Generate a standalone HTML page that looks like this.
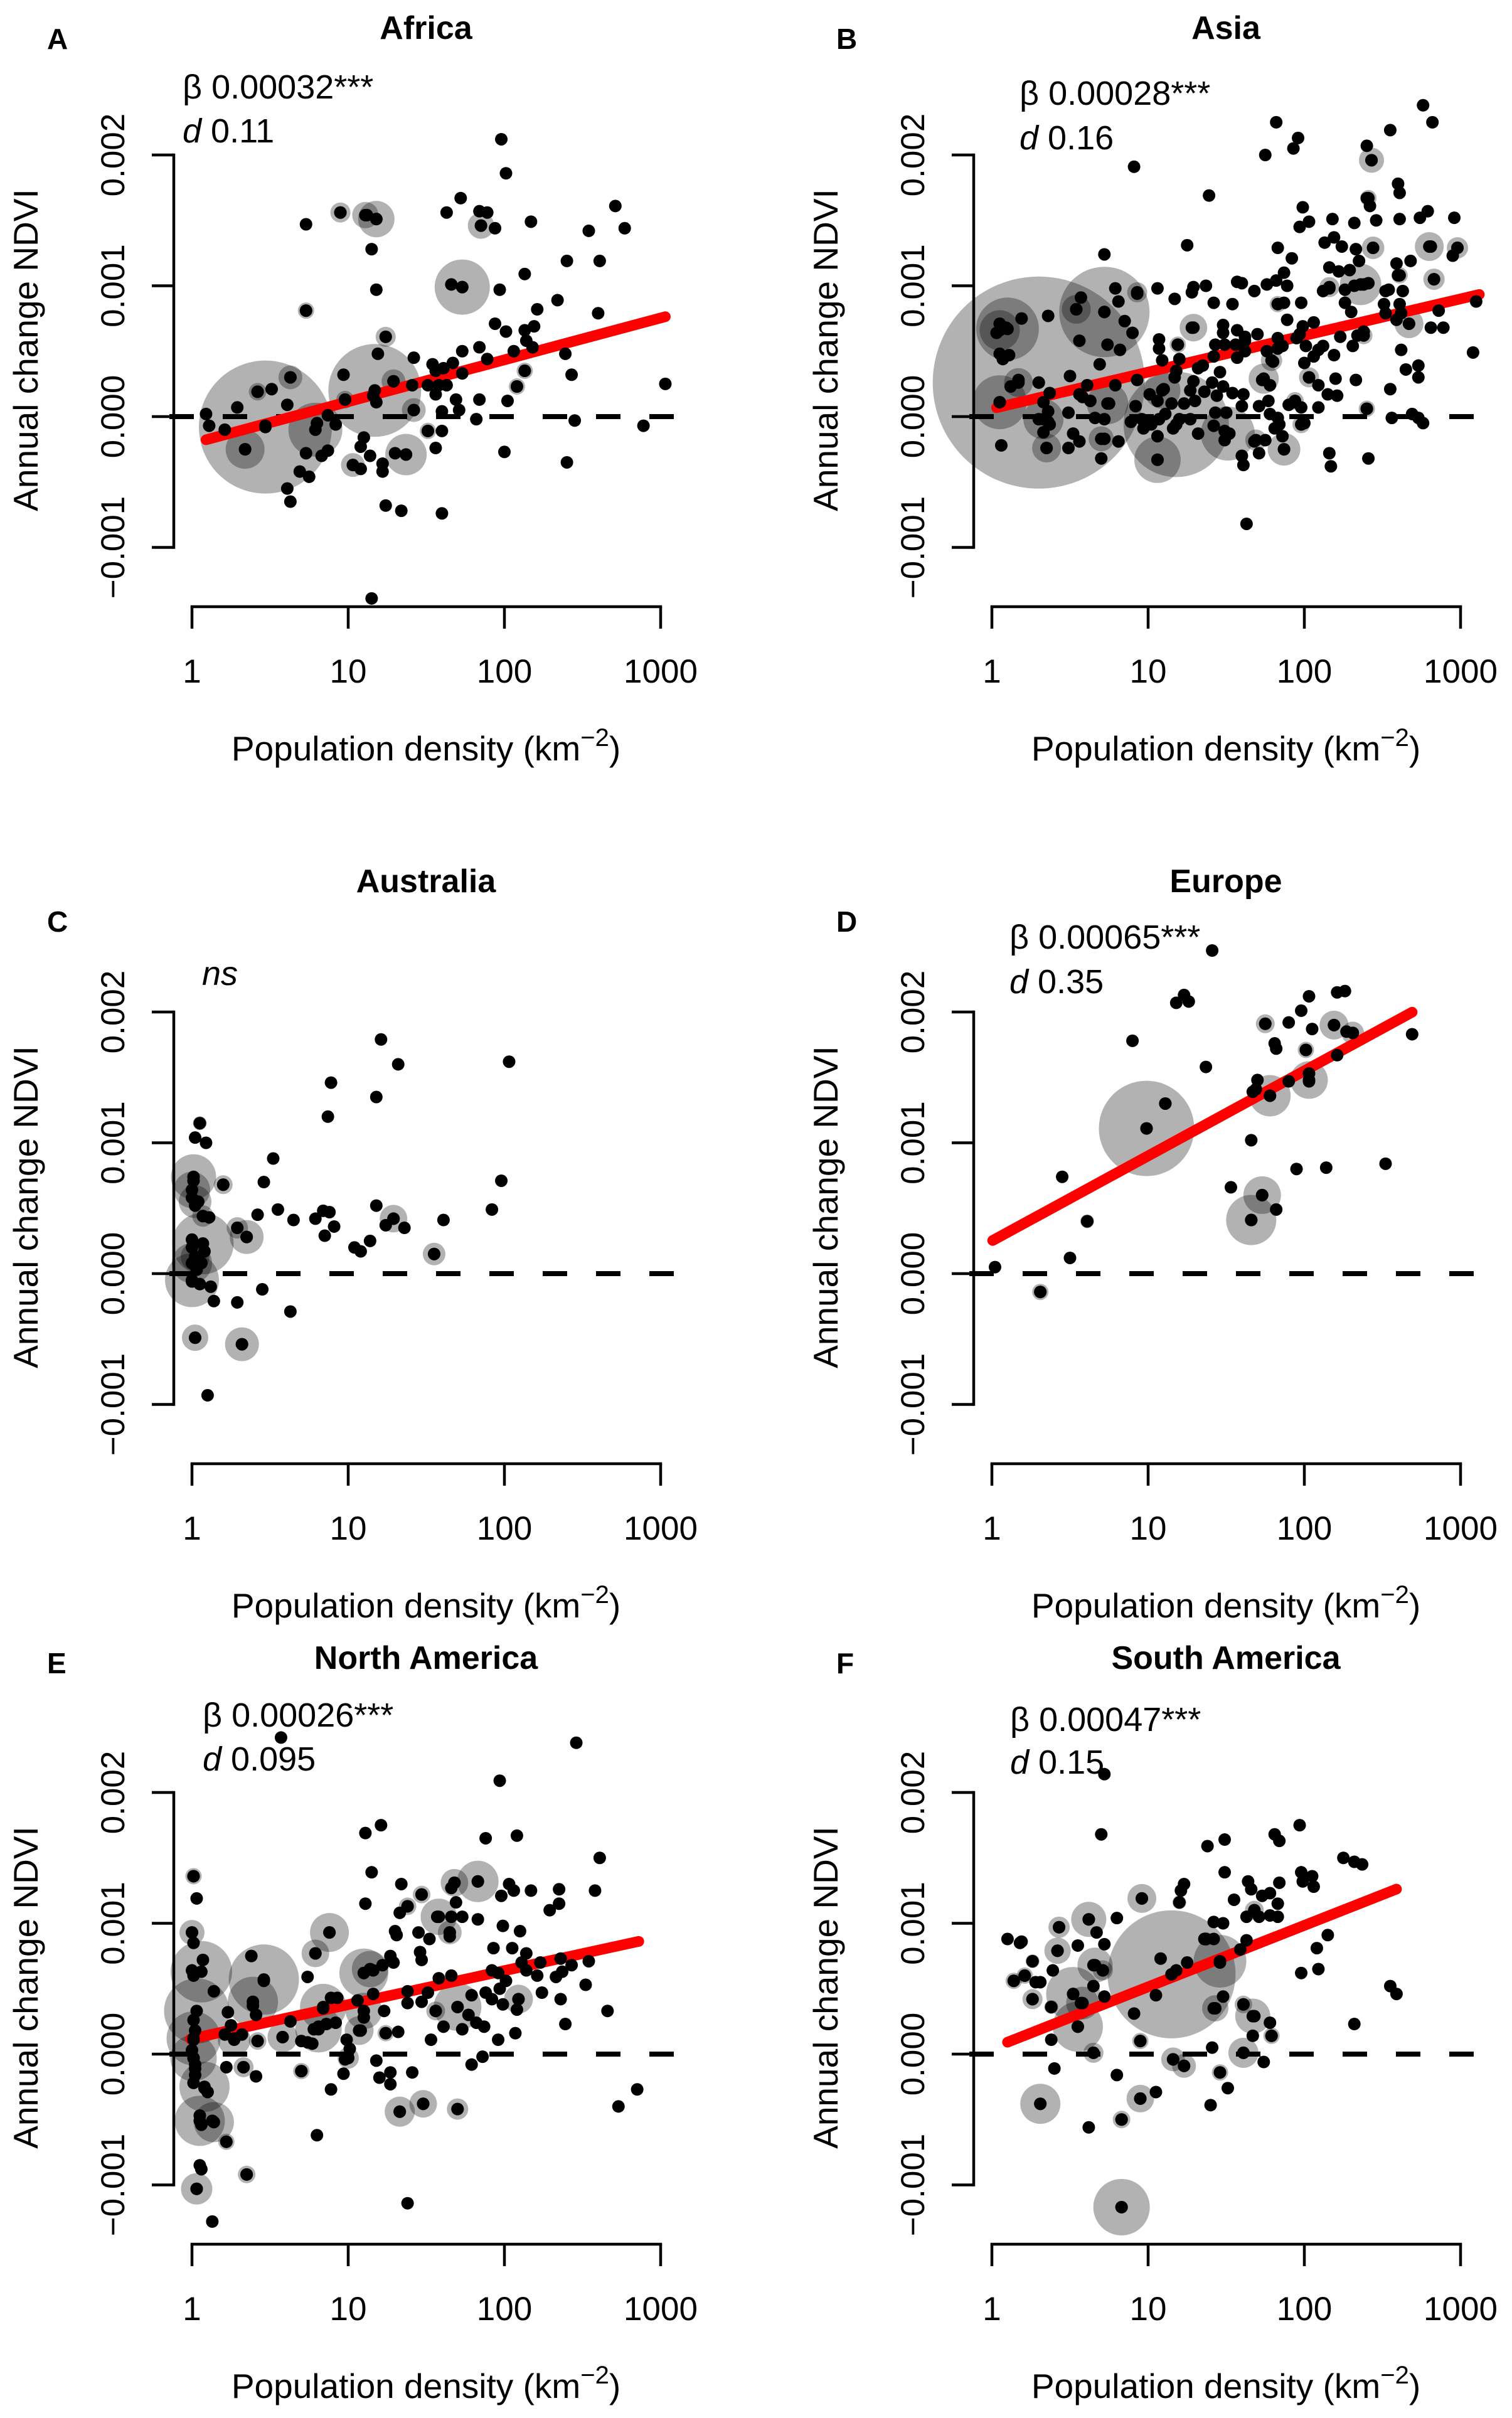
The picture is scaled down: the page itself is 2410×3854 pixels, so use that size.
<!DOCTYPE html>
<html><head><meta charset="utf-8"><title>NDVI change vs population density</title>
<style>html,body{margin:0;padding:0;background:#fff}svg{display:block}text{font-family:"Liberation Sans",sans-serif;fill:#000}</style>
</head><body>
<svg id="fig" xmlns="http://www.w3.org/2000/svg" width="2410" height="3854" viewBox="0 0 2410 3854"></svg>
<script>
// ===== DATA: [log10 population density, annual change NDVI (x0.001)] =====
const yTickValues=[-1,0,1,2];
const yTickLabels=["\u22120.001","0.000","0.001","0.002"];
const xTickValues=[0,1,2,3];
const xTickLabels=["1","10","100","1000"];

const africaPoints=[[1.98,2.12],[2.01,1.86],[1.72,1.67],[1.63,1.56],[1.84,1.57],[1.89,1.56],[1.85,1.46],[1.94,1.44],[2.17,1.49],[2.71,1.61],[2.77,1.44],[2.54,1.42],[2.40,1.19],[2.61,1.19],[2.13,1.09],[1.97,0.97],[1.66,1.01],[1.73,0.99],[0.73,1.47],[0.95,1.56],[1.12,1.54],[1.18,1.51],[1.15,1.28],[1.18,0.97],[0.73,0.81],[1.24,0.61],[2.34,0.89],[2.21,0.82],[2.60,0.79],[1.94,0.71],[2.01,0.65],[2.13,0.66],[2.19,0.69],[2.14,0.58],[2.18,0.53],[1.84,0.53],[2.06,0.50],[1.89,0.44],[1.73,0.50],[1.42,0.45],[1.54,0.40],[1.67,0.41],[1.61,0.37],[1.56,0.35],[1.73,0.33],[2.39,0.48],[2.43,0.32],[2.13,0.35],[2.08,0.23],[3.03,0.25],[1.19,0.48],[0.97,0.32],[1.29,0.27],[1.41,0.24],[1.51,0.24],[1.58,0.24],[1.63,0.24],[1.56,0.17],[1.16,0.16],[1.18,0.11],[0.98,0.13],[0.63,0.30],[0.51,0.21],[0.42,0.19],[0.61,0.09],[0.29,0.07],[0.09,0.02],[0.11,-0.07],[0.21,-0.10],[0.47,-0.07],[0.87,0.01],[0.80,-0.05],[0.92,-0.06],[1.42,0.05],[1.60,0.04],[1.71,0.05],[1.69,0.13],[1.84,0.13],[2.02,0.12],[1.82,-0.02],[2.45,-0.03],[2.89,-0.07],[1.51,-0.11],[1.60,-0.11],[1.10,-0.16],[1.08,-0.23],[0.87,-0.26],[0.83,-0.30],[0.73,-0.28],[1.14,-0.30],[1.30,-0.28],[1.37,-0.29],[1.56,-0.24],[2.00,-0.27],[2.40,-0.35],[1.03,-0.37],[1.08,-0.40],[1.22,-0.36],[1.22,-0.42],[0.69,-0.42],[0.75,-0.46],[0.61,-0.55],[0.63,-0.65],[1.24,-0.68],[1.34,-0.72],[1.60,-0.74],[1.15,-1.39],[0.34,-0.25]];
// bubbles: [log10 density, NDVI change, bubble size]
const africaBubbles=[[0.47,-0.08,106],[1.17,0.20,74],[1.73,0.99,44],[0.79,-0.10,43],[0.34,-0.25,31],[1.18,1.51,29],[1.11,1.54,21],[0.95,1.56,16],[1.85,1.46,21],[1.37,-0.29,33],[1.29,0.27,19],[1.03,-0.37,19],[0.63,0.30,19],[1.24,0.61,16],[0.73,0.81,13],[2.13,0.35,13],[2.08,0.23,13],[1.42,0.05,19],[1.51,-0.11,13],[0.42,0.19,14],[0.98,0.13,14]];
const africaFit=[-0.206,0.32,0.09,3.03]; // intercept, slope, xmin, xmax

const asiaPoints=[[2.76,2.38],[2.82,2.25],[1.82,2.25],[2.55,2.19],[1.96,2.13],[1.93,2.05],[1.75,2.00],[2.40,2.07],[2.43,1.96],[0.91,1.91],[1.39,1.69],[2.60,1.78],[2.61,1.71],[2.40,1.67],[2.42,1.61],[1.99,1.60],[2.03,1.49],[1.97,1.45],[2.18,1.51],[2.32,1.48],[2.46,1.50],[2.61,1.51],[2.74,1.52],[2.79,1.57],[2.96,1.52],[2.13,1.33],[2.19,1.37],[2.24,1.30],[2.33,1.28],[2.44,1.29],[2.81,1.30],[2.98,1.29],[2.95,1.23],[1.25,1.31],[0.72,1.24],[1.83,1.29],[1.92,1.21],[2.35,1.19],[2.59,1.17],[2.68,1.19],[2.16,1.14],[2.22,1.11],[2.29,1.12],[2.60,1.08],[2.83,1.05],[1.87,1.10],[1.82,1.04],[1.89,1.00],[1.76,1.01],[1.68,0.96],[1.57,1.03],[1.60,1.02],[1.37,1.00],[1.29,0.99],[1.28,0.95],[1.06,0.98],[1.17,0.90],[0.79,0.98],[0.93,0.94],[0.81,0.88],[0.57,0.91],[1.42,0.87],[1.54,0.86],[1.98,0.87],[1.83,0.86],[1.87,0.87],[2.12,0.96],[2.16,0.98],[2.26,0.97],[2.32,1.00],[2.38,1.01],[2.41,1.02],[2.26,0.87],[2.30,0.80],[2.52,0.96],[2.63,0.96],[2.51,0.86],[2.61,0.86],[2.52,0.79],[2.62,0.79],[2.86,0.81],[3.10,0.88],[2.59,0.74],[2.67,0.71],[2.81,0.68],[2.89,0.68],[3.08,0.49],[0.54,0.82],[0.72,0.80],[0.36,0.77],[0.19,0.75],[0.05,0.71],[0.09,0.68],[0.03,0.64],[0.85,0.73],[0.90,0.64],[1.89,0.74],[2.06,0.72],[1.99,0.69],[1.97,0.63],[1.95,0.60],[1.83,0.60],[1.70,0.63],[1.48,0.70],[1.57,0.66],[1.62,0.61],[1.48,0.64],[1.28,0.68],[1.07,0.59],[1.19,0.55],[1.07,0.52],[1.43,0.55],[1.49,0.55],[1.56,0.55],[1.62,0.58],[1.62,0.50],[1.57,0.45],[1.42,0.46],[1.09,0.43],[1.20,0.44],[0.56,0.58],[0.74,0.55],[0.82,0.51],[0.69,0.40],[0.05,0.48],[0.11,0.47],[0.07,0.44],[2.09,0.51],[2.01,0.54],[2.12,0.54],[2.19,0.47],[2.06,0.46],[2.00,0.41],[1.86,0.54],[1.83,0.52],[1.76,0.50],[1.80,0.42],[2.23,0.61],[2.31,0.54],[2.38,0.65],[2.34,0.62],[2.62,0.51],[2.73,0.39],[2.65,0.36],[2.73,0.30],[0.50,0.31],[0.30,0.26],[0.12,0.23],[0.17,0.28],[0.93,0.28],[0.79,0.24],[1.18,0.35],[1.17,0.30],[1.32,0.37],[1.35,0.39],[1.46,0.34],[1.29,0.27],[1.41,0.26],[1.48,0.23],[1.27,0.20],[1.36,0.19],[1.44,0.16],[1.54,0.18],[1.61,0.17],[1.73,0.28],[1.78,0.24],[2.03,0.30],[2.09,0.24],[2.20,0.29],[2.33,0.28],[2.55,0.21],[0.37,0.18],[0.56,0.17],[0.58,0.15],[0.63,0.12],[0.33,0.11],[0.61,0.24],[0.05,0.11],[1.01,0.17],[1.10,0.21],[1.06,0.12],[1.15,0.10],[1.23,0.10],[1.30,0.12],[0.92,0.08],[0.75,0.10],[1.60,0.08],[1.71,0.08],[1.77,0.12],[1.90,0.09],[1.94,0.11],[1.98,0.07],[2.09,0.07],[2.15,0.17],[2.21,0.16],[2.40,0.06],[0.49,0.03],[0.36,0.04],[0.30,-0.02],[0.36,-0.04],[0.33,-0.12],[0.37,-0.06],[0.66,-0.01],[0.72,-0.02],[0.96,-0.02],[0.89,-0.04],[1.07,-0.02],[1.02,-0.06],[0.97,-0.09],[1.11,0.02],[1.20,-0.02],[1.27,-0.02],[1.43,0.03],[1.50,0.03],[1.42,-0.07],[1.49,-0.11],[1.52,-0.13],[1.83,-0.01],[1.81,-0.09],[1.84,-0.06],[1.86,-0.15],[1.78,0.02],[2.00,-0.05],[2.56,-0.01],[2.69,0.02],[2.73,-0.01],[2.76,-0.05],[0.52,-0.13],[0.56,-0.19],[0.72,-0.17],[0.81,-0.19],[0.49,-0.24],[0.35,-0.24],[0.06,-0.22],[1.06,-0.15],[1.16,-0.09],[1.32,-0.13],[1.49,-0.18],[1.68,-0.19],[1.75,-0.18],[1.87,-0.25],[1.71,-0.28],[2.16,-0.28],[2.17,-0.38],[2.41,-0.32],[1.60,-0.30],[1.61,-0.37],[0.70,-0.32],[1.06,-0.33],[1.63,-0.82],[2.54,0.97]];
const asiaBubbles=[[0.30,0.26,169],[0.72,0.80,72],[0.10,0.67,50],[0.05,0.11,43],[1.18,-0.06,84],[1.06,-0.33,37],[1.51,-0.13,43],[2.36,1.01,33],[0.05,0.66,32],[2.80,1.30,23],[2.43,1.96,20],[2.44,1.29,18],[2.67,0.71,23],[1.29,0.68,22],[1.87,-0.25,26],[0.33,-0.02,32],[0.35,-0.24,23],[0.74,0.10,33],[2.83,1.05,17],[2.98,1.29,17],[2.38,0.62,14],[1.74,0.29,24],[2.03,0.30,16],[1.98,-0.06,14],[1.79,0.43,17],[2.16,0.99,16],[1.09,0.20,29],[2.40,0.06,13],[1.19,0.55,13],[1.83,0.86,13],[2.41,1.67,13],[2.61,1.08,13],[1.94,0.12,14],[1.69,-0.18,17],[0.93,0.95,16],[0.54,0.82,23],[0.17,0.26,23],[0.70,-0.17,20]];
const asiaFit=[0.06,0.28,0.03,3.12];

const australiaPoints=[[1.21,1.79],[1.32,1.60],[2.03,1.62],[0.89,1.46],[1.18,1.35],[0.87,1.20],[0.05,1.15],[0.02,1.04],[0.09,1.00],[0.52,0.88],[0.01,0.71],[0.20,0.68],[0.46,0.70],[1.98,0.71],[0.00,0.58],[0.04,0.55],[0.02,0.52],[0.07,0.44],[0.11,0.43],[0.42,0.45],[0.55,0.49],[0.65,0.41],[0.79,0.42],[0.84,0.48],[0.88,0.47],[0.91,0.36],[0.85,0.29],[1.18,0.52],[1.29,0.42],[1.24,0.37],[1.36,0.35],[1.61,0.41],[1.92,0.49],[0.29,0.35],[0.35,0.28],[1.04,0.20],[1.08,0.17],[1.14,0.25],[1.55,0.15],[0.00,0.26],[0.00,0.20],[0.08,0.17],[0.06,0.08],[0.03,0.03],[0.00,-0.06],[0.05,-0.08],[0.12,-0.10],[0.14,-0.21],[0.29,-0.22],[0.45,-0.12],[0.63,-0.29],[0.02,-0.49],[0.32,-0.54],[0.10,-0.93]];
const australiaBubbles=[[0.01,0.74,36],[0.00,0.64,29],[0.02,0.55,26],[0.07,0.23,49],[0.00,0.08,32],[0.00,-0.05,43],[0.02,0.13,23],[0.05,1.15,11],[0.20,0.68,15],[0.29,0.35,17],[0.35,0.28,27],[1.29,0.42,22],[1.55,0.15,18],[0.02,-0.49,21],[0.32,-0.54,27],[0.07,0.44,17]];
const australiaFit=null;

const europePoints=[[1.41,2.47],[1.23,2.13],[1.18,2.07],[1.26,2.08],[2.03,2.12],[2.21,2.15],[2.26,2.16],[1.98,2.01],[1.75,1.91],[1.90,1.92],[2.05,1.87],[2.19,1.90],[2.27,1.85],[2.31,1.84],[2.69,1.83],[0.90,1.78],[1.81,1.76],[1.82,1.72],[2.01,1.71],[2.21,1.67],[1.37,1.58],[1.70,1.48],[1.67,1.39],[1.69,1.41],[1.78,1.36],[1.90,1.47],[2.03,1.53],[2.03,1.47],[1.11,1.30],[0.99,1.11],[1.66,1.02],[1.95,0.80],[2.14,0.81],[2.52,0.84],[0.45,0.74],[1.53,0.66],[1.73,0.60],[1.82,0.49],[1.66,0.41],[0.61,0.40],[0.50,0.12],[0.02,0.05],[0.31,-0.14]];
const europeBubbles=[[0.99,1.11,76],[1.78,1.36,33],[2.03,1.48,30],[1.66,0.41,40],[1.73,0.60,30],[2.19,1.90,23],[2.31,1.84,18],[1.75,1.91,15],[2.01,1.71,13],[1.11,1.30,10],[0.61,0.40,11],[0.31,-0.14,13]];
const europeFit=[0.25,0.65,0.005,2.69];

const northAmericaPoints=[[0.57,2.42],[2.46,2.38],[1.97,2.09],[1.21,1.75],[1.11,1.69],[1.88,1.65],[2.08,1.67],[2.61,1.50],[1.15,1.39],[0.01,1.36],[0.03,1.19],[1.11,1.15],[1.34,1.30],[1.47,1.22],[1.38,1.13],[1.33,1.08],[1.68,1.31],[1.66,1.27],[1.83,1.32],[1.69,1.16],[2.03,1.30],[1.98,1.21],[2.06,1.25],[2.17,1.25],[2.35,1.26],[2.35,1.15],[2.29,1.10],[2.58,1.25],[1.57,1.05],[1.66,1.05],[1.73,1.05],[1.83,1.03],[1.99,0.98],[2.10,0.94],[1.30,0.94],[1.31,0.91],[1.45,0.93],[1.52,0.88],[1.65,0.93],[1.65,0.90],[0.88,0.93],[0.00,0.93],[0.01,0.85],[0.38,0.75],[0.07,0.72],[0.00,0.64],[0.01,0.60],[0.79,0.77],[0.74,0.59],[0.46,0.56],[0.14,0.48],[0.39,0.37],[0.41,0.30],[0.23,0.32],[0.25,0.22],[0.21,0.15],[0.32,0.15],[0.27,0.12],[0.01,0.26],[0.02,0.18],[0.01,0.11],[0.00,0.03],[0.01,-0.03],[0.02,-0.08],[0.02,-0.16],[0.01,-0.22],[0.08,-0.26],[0.10,-0.29],[0.05,-0.47],[0.06,-0.54],[0.13,-0.51],[0.22,-0.67],[0.05,-0.85],[0.06,-0.88],[0.03,-1.03],[0.13,-1.28],[0.35,-0.92],[0.80,-0.62],[0.22,-0.10],[0.33,-0.10],[0.41,-0.17],[0.42,0.10],[0.58,0.13],[0.63,0.25],[0.70,0.10],[0.74,0.09],[0.77,0.08],[0.78,0.19],[0.81,0.21],[0.86,0.23],[0.92,0.24],[0.84,0.35],[0.89,0.43],[0.93,0.43],[1.06,0.41],[1.08,0.18],[1.10,0.28],[0.99,0.11],[1.01,0.04],[0.98,-0.04],[0.97,-0.15],[0.89,-0.27],[0.70,-0.13],[1.16,0.46],[1.10,0.62],[1.16,0.64],[1.22,0.68],[1.27,0.75],[1.29,0.70],[1.23,0.33],[1.24,0.16],[1.32,0.17],[1.18,-0.05],[1.27,-0.14],[1.20,-0.18],[1.27,-0.23],[1.41,-0.14],[1.33,-0.44],[1.48,-0.38],[1.70,-0.42],[1.38,-1.14],[1.38,0.48],[1.38,0.39],[1.46,0.78],[1.47,0.72],[1.47,0.40],[1.51,0.47],[1.58,0.58],[1.66,0.60],[1.56,0.33],[1.61,0.21],[1.53,0.11],[1.70,0.36],[1.79,0.45],[1.77,0.30],[1.73,0.19],[1.82,0.24],[1.87,0.21],[1.79,-0.08],[1.86,-0.02],[1.88,0.47],[1.92,0.42],[1.93,0.81],[1.92,0.64],[1.96,0.62],[2.01,0.56],[1.97,0.50],[1.99,0.38],[2.08,0.34],[2.09,0.42],[1.96,0.11],[2.07,0.16],[2.05,0.81],[2.14,0.77],[2.11,0.70],[2.14,0.64],[2.21,0.60],[2.23,0.70],[2.24,0.47],[2.33,0.59],[2.36,0.73],[2.37,0.63],[2.43,0.68],[2.54,0.71],[2.36,0.42],[2.39,0.23],[2.52,0.53],[2.66,0.33],[2.73,-0.40],[2.85,-0.27],[0.02,-0.11]];
const northAmericaBubbles=[[0.06,0.63,49],[0.03,0.33,52],[0.46,0.57,56],[0.39,0.40,40],[0.01,0.12,43],[0.01,-0.03,37],[0.08,-0.25,40],[0.05,-0.51,40],[0.14,-0.52,32],[0.27,0.11,26],[0.84,0.36,37],[0.81,0.19,37],[1.10,0.62,39],[1.14,0.65,29],[1.10,0.33,29],[1.58,1.05,29],[1.83,1.32,33],[1.68,1.31,22],[1.70,0.36,38],[2.09,0.42,23],[0.88,0.93,31],[0.79,0.77,22],[0.58,0.13,24],[1.07,0.18,23],[1.33,-0.44,24],[1.48,-0.38,22],[1.70,-0.42,17],[0.03,-1.03,25],[0.00,0.93,20],[0.01,1.36,13],[0.35,-0.92,14],[0.22,-0.67,13],[0.33,-0.10,16],[0.42,0.10,14],[0.70,-0.13,13],[1.47,1.22,14],[1.38,1.13,14],[1.65,0.93,19],[1.00,-0.03,17],[1.24,0.16,13],[1.56,0.33,15]];
const northAmericaFit=[0.118,0.26,-0.01,2.86];

const southAmericaPoints=[[0.72,2.14],[0.70,1.68],[1.97,1.75],[1.81,1.68],[1.84,1.63],[1.38,1.59],[1.49,1.64],[2.25,1.50],[2.32,1.47],[2.37,1.45],[1.49,1.39],[1.98,1.39],[2.05,1.36],[1.99,1.32],[2.06,1.28],[1.64,1.32],[1.66,1.26],[1.84,1.31],[1.23,1.30],[1.21,1.25],[1.20,1.16],[1.55,1.18],[1.73,1.21],[1.78,1.23],[1.83,1.15],[1.68,1.10],[1.63,1.05],[1.71,1.05],[1.78,1.06],[1.83,1.05],[0.96,1.19],[0.80,1.04],[0.62,1.03],[0.67,0.93],[0.43,0.97],[0.10,0.88],[0.18,0.85],[0.19,0.86],[0.55,0.83],[0.72,0.84],[0.42,0.79],[0.26,0.71],[0.39,0.64],[0.21,0.60],[0.14,0.56],[0.28,0.55],[0.31,0.55],[0.26,0.42],[0.38,0.36],[0.65,0.68],[0.71,0.64],[0.65,0.52],[0.72,0.44],[0.52,0.46],[0.57,0.39],[0.55,0.21],[0.38,0.11],[0.65,0.01],[0.40,-0.11],[0.80,-0.16],[0.31,-0.38],[0.62,-0.56],[0.83,-0.50],[0.95,-0.34],[1.05,-0.29],[0.83,-1.17],[1.08,0.73],[1.05,0.45],[0.91,0.31],[0.95,0.10],[1.15,0.61],[1.18,0.64],[1.25,0.70],[1.36,0.88],[1.42,0.88],[1.42,1.01],[1.48,1.00],[1.46,0.70],[1.59,0.80],[1.63,0.87],[1.48,0.44],[1.42,0.35],[1.41,0.05],[1.16,-0.04],[1.23,-0.09],[1.46,-0.14],[1.51,-0.26],[1.40,-0.39],[1.61,0.38],[1.68,0.29],[1.78,0.24],[1.67,0.14],[1.79,0.14],[1.61,0.01],[1.74,-0.06],[2.15,0.91],[2.08,0.81],[2.09,0.65],[1.98,0.62],[2.55,0.52],[2.59,0.46],[2.32,0.23]];
const southAmericaBubbles=[[1.15,0.61,102],[1.46,0.71,42],[0.52,0.46,43],[0.55,0.21,40],[0.62,1.03,28],[0.66,0.68,28],[1.67,0.29,28],[0.31,-0.38,32],[0.83,-1.17,45],[1.61,0.01,24],[0.95,-0.34,22],[0.96,1.19,23],[0.42,0.79,21],[0.43,0.97,17],[1.43,0.35,21],[1.16,-0.04,19],[1.23,-0.09,19],[0.58,0.39,26],[0.65,0.01,16],[0.95,0.10,13],[0.83,-0.50,14],[1.46,-0.14,13],[0.26,0.42,16],[0.21,0.60,13],[0.14,0.56,13],[0.26,0.71,11],[0.38,0.36,11],[1.79,0.14,13],[1.61,0.38,14],[1.68,1.10,15],[1.20,1.16,11],[1.37,0.88,11],[0.71,0.64,16]];
const southAmericaFit=[0.044,0.47,0.10,2.59];

const panelTitles=["Africa","Asia","Australia","Europe","North America","South America"];
const panelLetters=["A","B","C","D","E","F"];
const betaLabels=["0.00032***","0.00028***",null,"0.00065***","0.00026***","0.00047***"];
const dLabels=["0.11","0.16",null,"0.35","0.095","0.15"];

// ===== LAYOUT =====
const svg=document.getElementById('fig');
const NS='http://www.w3.org/2000/svg';
const origins=[[0,0],[1275,0],[0,1366],[1275,1366],[0,2610],[1275,2610]];
const annotX=[291,350,322,334,323,335];
const betaY=[157,167,204,146,142,149];
const dY=[227,238,0,217,212,217];
const letterX=[75,58,75,58,75,58];
const letterY=[78,78,119,119,57,57];
const titleY=[62,62,56,56,50,50];
const X0=306, DEC=249, Y0=664, UNIT=208.5;

function mk(tag,attrs,parent){const e=document.createElementNS(NS,tag);for(const k in attrs)e.setAttribute(k,attrs[k]);(parent||svg).appendChild(e);return e;}

function drawPanel(i,points,bubbles,fit){
  const ox=origins[i][0], oy=origins[i][1];
  const xs=v=>ox+X0+v*DEC;
  const ys=v=>oy+Y0-v*UNIT;
  const g=mk('g',{});
  
  

  const bg=mk('g',{},g);
  
  
  bubbles.forEach(b=>{
    const c=mk('circle',{cx:xs(b[0]),cy:ys(b[1]),r:b[2],fill:'rgba(0,0,0,0.3)'},bg);
    
    
  });
  const z=mk('line',{x1:ox+270,x2:ox+1082,y1:ys(0),y2:ys(0),stroke:'#000','stroke-width':8,'stroke-dasharray':'39 46'},g);
  
  
  if(fit){
    const f=mk('line',{x1:xs(fit[2]),y1:ys(fit[0]+fit[1]*fit[2]),x2:xs(fit[3]),y2:ys(fit[0]+fit[1]*fit[3]),stroke:'#ff0000','stroke-width':17,'stroke-linecap':'round'},g);
    
    
  }
  const pg=mk('g',{},g);
  
  
  points.concat(bubbles).forEach(p=>{
    const c=mk('circle',{cx:xs(p[0]),cy:ys(p[1]),r:10,fill:'#000'},pg);
    
    
  });
  const ya=mk('g',{stroke:'#000','stroke-width':4.5,fill:'none'},g);
  
  
  const yl=mk('line',{x1:ox+277,x2:ox+277,y1:ys(yTickValues[yTickValues.length-1]),y2:ys(yTickValues[0]),'stroke-linecap':'square'},ya);
  
  
  yTickValues.forEach((v,k)=>{
    const t=mk('line',{x1:ox+242,x2:ox+277,y1:ys(v),y2:ys(v)},ya);
    
    
    const lx=ox+198, ly=ys(v);
    const tx=mk('text',{x:lx,y:ly,'font-size':53,'text-anchor':'middle',transform:`rotate(-90 ${lx} ${ly})`},g);
    
    
    tx.textContent=yTickLabels[k];
  });
  const xa=mk('g',{stroke:'#000','stroke-width':4.5,fill:'none'},g);
  
  
  const xl=mk('line',{x1:xs(xTickValues[0]),x2:xs(xTickValues[xTickValues.length-1]),y1:oy+967,y2:oy+967,'stroke-linecap':'square'},xa);
  
  
  xTickValues.forEach((v,k)=>{
    const t=mk('line',{x1:xs(v),x2:xs(v),y1:oy+967,y2:oy+1002},xa);
    
    
    const tx=mk('text',{x:xs(v),y:oy+1088,'font-size':53,'text-anchor':'middle'},g);
    
    
    tx.textContent=xTickLabels[k];
  });
  const xt=mk('text',{x:ox+679,y:oy+1212,'font-size':55,'text-anchor':'middle'},g);
  
  
  xt.innerHTML='Population density (km<tspan dy="-23" font-size="40">\u22122</tspan><tspan dy="23">)</tspan>';
  const yx=ox+60, yy=oy+558;
  const yt=mk('text',{x:yx,y:yy,'font-size':55,'text-anchor':'middle',transform:`rotate(-90 ${yx} ${yy})`},g);
  
  
  yt.textContent='Annual change NDVI';
  const tt=mk('text',{x:ox+679,y:oy+titleY[i],'font-size':52,'font-weight':'bold','text-anchor':'middle'},g);
  
  
  tt.textContent=panelTitles[i];
  const lt=mk('text',{x:ox+letterX[i],y:oy+letterY[i],'font-size':46,'font-weight':'bold'},g);
  
  
  lt.textContent=panelLetters[i];
  if(betaLabels[i]){
    const bt=mk('text',{x:ox+annotX[i],y:oy+betaY[i],'font-size':54},g);
    
    
    bt.textContent='\u03b2 '+betaLabels[i];
    const dt=mk('text',{x:ox+annotX[i],y:oy+dY[i],'font-size':54},g);
    
    
    dt.innerHTML='<tspan font-style="italic">d</tspan> '+dLabels[i];
  } else {
    const nt=mk('text',{x:ox+annotX[i],y:oy+betaY[i],'font-size':54,'font-style':'italic'},g);
    
    
    nt.textContent='ns';
  }
}
drawPanel(0,africaPoints,africaBubbles,africaFit);
drawPanel(1,asiaPoints,asiaBubbles,asiaFit);
drawPanel(2,australiaPoints,australiaBubbles,australiaFit);
drawPanel(3,europePoints,europeBubbles,europeFit);
drawPanel(4,northAmericaPoints,northAmericaBubbles,northAmericaFit);
drawPanel(5,southAmericaPoints,southAmericaBubbles,southAmericaFit);
</script>
</body></html>
